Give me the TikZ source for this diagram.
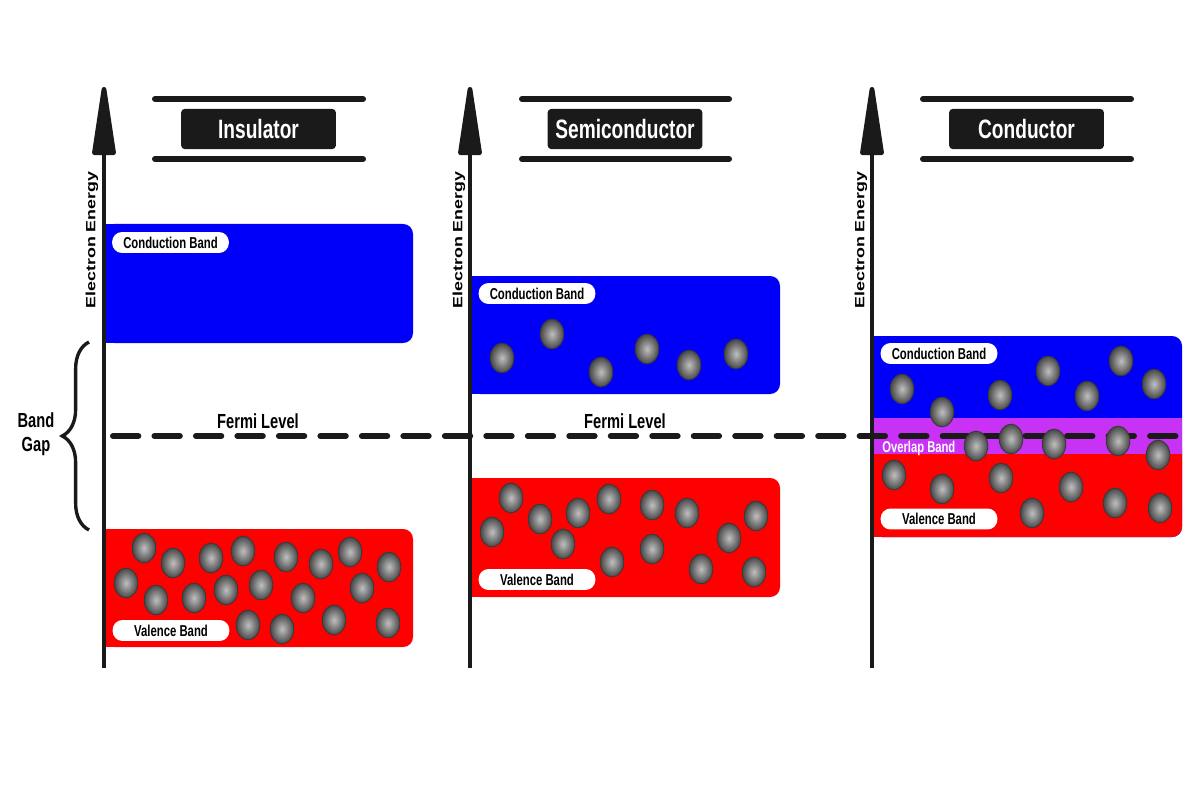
\documentclass[tikz,border=0pt]{standalone}
\usepackage{fontspec}
\setmainfont{Liberation Sans}
\newfontfamily\narrowsans[FakeStretch=0.72]{Liberation Sans}
\usetikzlibrary{arrows.meta,positioning,decorations.pathreplacing}
\definecolor{ink}{RGB}{26,26,26}
\definecolor{cbblue}{RGB}{0,0,250}
\definecolor{vbred}{RGB}{255,0,0}
\definecolor{ovviolet}{RGB}{200,50,245}

\begin{document}
\begin{tikzpicture}[x=0.025cm, y=-0.025cm,
  axis/.style={draw=ink, line width=3.4pt, -{Triangle[round, length=59pt, width=16.5pt]}},
  bar/.style={draw=ink, line width=4.3pt, line cap=round},
  titlebox/.style={fill=ink, rounded corners=2.5pt, minimum width=110pt, minimum height=28.5pt,
    text=white, font=\narrowsans\bfseries\fontsize{18.9}{20}\selectfont},
  pill/.style={fill=white, rounded corners=7pt, minimum width=83pt, minimum height=14.9pt,
    inner sep=0pt, font=\narrowsans\bfseries\fontsize{11.2}{12}\selectfont},
  energy/.style={rotate=90, font=\bfseries\fontsize{12.7}{13}\selectfont},
  bigtext/.style={font=\narrowsans\bfseries\fontsize{14.5}{17}\selectfont},
  fermi/.style={draw=ink, line width=4.3pt, line cap=round, dash pattern=on 18pt off 11.5pt},
  electron/.style={inner color=black!25, outer color=black!72, draw=black!78, line width=0.6pt}]
\fill[white] (0,0) rectangle (1200,800);
\useasboundingbox (0,0) rectangle (1200,800);

% bands
\fill[cbblue, rounded corners=7pt] (104,224) rectangle (413,343);
\fill[cbblue] (104,224) rectangle (300,343);
\fill[vbred, rounded corners=7pt] (104,529) rectangle (413,647);
\fill[vbred] (104,529) rectangle (300,647);
\fill[cbblue, rounded corners=7pt] (470,276) rectangle (780,394);
\fill[cbblue] (470,276) rectangle (700,394);
\fill[vbred, rounded corners=7pt] (470,478) rectangle (780,597);
\fill[vbred] (470,478) rectangle (700,597);
\fill[cbblue, rounded corners=7pt] (872,336) rectangle (1182,537);
\fill[cbblue] (872,336) rectangle (1100,537);
\fill[vbred, rounded corners=7pt] (872,440) rectangle (1182,537);
\fill[vbred] (872,440) rectangle (1100,537);
\fill[ovviolet] (872,418) rectangle (1182,454);

% fermi level
\coordinate (fermiL) at (113,436);
\coordinate (fermiR) at (1181,436);
\draw[fermi] (fermiL) -- (fermiR);

% axes
\foreach \name/\x in {ins/104, semi/470, cond/872} {
  \coordinate (\name bot) at (\x,668);
  \coordinate (\name top) at (\x,87);
  \draw[axis] (\name bot) -- (\name top);
}

% titles
\draw[bar] (155,99) -- (363,99) (155,159) -- (363,159);
\draw[bar] (522,99) -- (729,99) (522,159) -- (729,159);
\draw[bar] (923,99) -- (1131,99) (923,159) -- (1131,159);
\node[titlebox] (insTitle) at (258.5,129) {Insulator};
\node[titlebox] (semiTitle) at (625,129) {Semiconductor};
\node[titlebox] (condTitle) at (1026.5,129) {Conductor};

\node[energy] (insEnergy) at (92,240) {\scalebox{1}[0.75]{Electron Energy}};
\node[energy] (semiEnergy) at (459,240) {\scalebox{1}[0.75]{Electron Energy}};
\node[energy] (condEnergy) at (861,240) {\scalebox{1}[0.75]{Electron Energy}};

% band labels
\node[pill] (insCB) at (170.5,242.5) {Conduction Band};
\node[pill] (insVB) at (171,630.5) {Valence Band};
\node[pill] (semiCB) at (537,293.5) {Conduction Band};
\node[pill] (semiVB) at (537,579.5) {Valence Band};
\node[pill] (condCB) at (939,353.5) {Conduction Band};
\node[pill] (condVB) at (939,519) {Valence Band};
\node[anchor=west, inner sep=0pt, text=white, font=\narrowsans\bfseries\fontsize{11.1}{12}\selectfont]
  (overlap) at (882,448) {Overlap Band};

% electrons
\foreach \x/\y in {144/548,173/563,126/583,156/600,211/558,194/598,243/551,226/590,261/585,
  286/557,303/598,248/625,282/629,321/564,350/552,362/588,334/620,389/567,388/623}
  \shade[electron] (\x,\y) ellipse [x radius=8.4pt, y radius=10.6pt];
\foreach \x/\y in {502/358,552/334,601/372,647/349,689/365,736/354,
  511/498,492/532,540/519,578/513,563/544,609/499,612/562,652/505,652/549,687/513,
  701/569,729/538,756/516,754/572}
  \shade[electron] (\x,\y) ellipse [x radius=8.4pt, y radius=10.6pt];
\foreach \x/\y in {902/389,942/412,1000/395,1048/371,1087/396,1121/361,1154/384,
  976/446,1011/439,1054/444,1118/441,1158/455,894/475,942/489,1001/478,1032/513,
  1071/487,1115/503,1160/508}
  \shade[electron] (\x,\y) ellipse [x radius=8.4pt, y radius=10.6pt];

% band gap
\coordinate (gapTop) at (89,342);
\coordinate (gapBot) at (89,530);
\draw[ink, line width=2.4pt, decorate, decoration={brace, amplitude=19pt}] (gapBot) -- (gapTop);
\node[bigtext, align=center] (gapLabel) at (36,434) {Band\\Gap};

\node[bigtext] (fermiIns) at (258,421) {Fermi Level};
\node[bigtext] (fermiSemi) at (625,421) {Fermi Level};
\end{tikzpicture}
\end{document}
